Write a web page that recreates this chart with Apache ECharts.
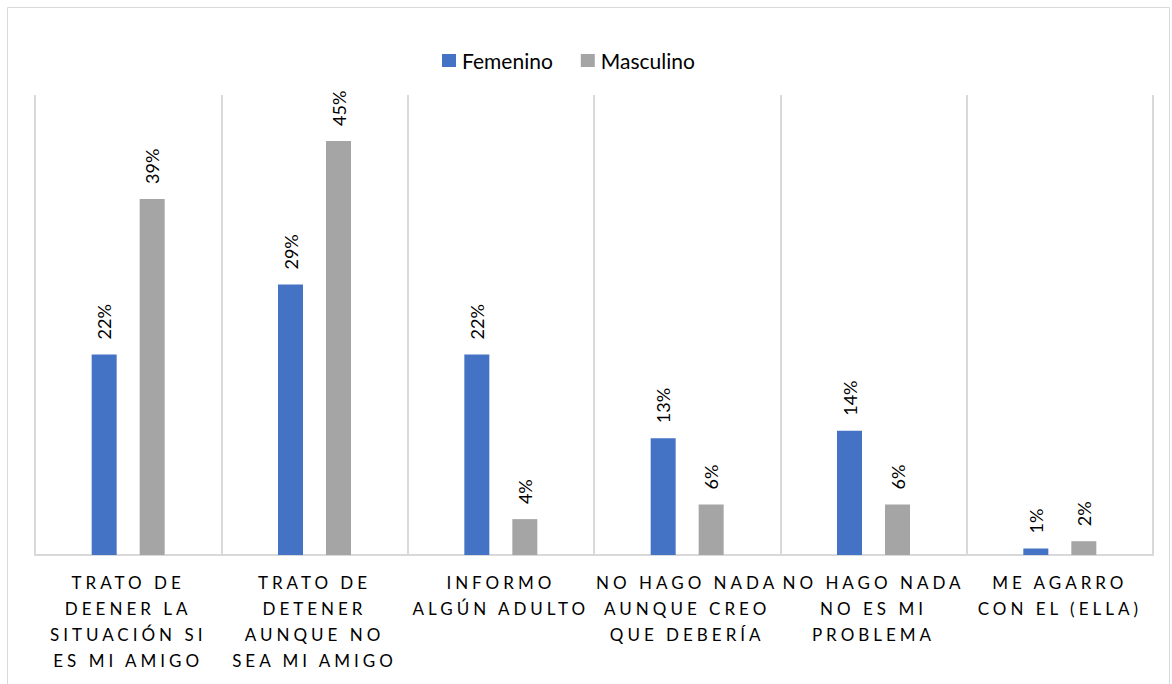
<!DOCTYPE html>
<html>
<head>
<meta charset="utf-8">
<script src="https://cdn.jsdelivr.net/npm/echarts@6/dist/echarts.min.js"></script>
<style>
html,body{margin:0;padding:0;background:#fff;}
#chart{width:1172px;height:684px;}
</style>
</head>
<body>
<div id="chart"></div>
<script>
const categories = [
  "TRATO DE\nDEENER LA\nSITUACIÓN SI\nES MI AMIGO",
  "TRATO DE\nDETENER\nAUNQUE NO\nSEA MI AMIGO",
  "INFORMO\nALGÚN ADULTO",
  "NO HAGO NADA\nAUNQUE CREO\nQUE DEBERÍA",
  "NO HAGO NADA\nNO ES MI\nPROBLEMA",
  "ME AGARRO\nCON EL (ELLA)"
];
const seriesNames = ["Femenino", "Masculino"];
const femenino = [21.8, 29.4, 21.8, 12.7, 13.5, 0.7];
const masculino = [38.7, 45.0, 3.9, 5.5, 5.5, 1.5];

const chart = echarts.init(document.getElementById('chart'), null, {renderer: 'svg'});
const labelStyle = {
  show: true,
  position: 'top',
  rotate: 90,
  align: 'left',
  verticalAlign: 'middle',
  distance: 15,
  fontFamily: 'Lato',
  fontSize: 18,
  color: '#000',
  formatter: p => Math.round(p.value) + '%'
};
chart.setOption({
  animation: false,
  graphic: [{
    type: 'rect',
    shape: {x: 7.5, y: 7.5, width: 1162, height: 720},
    style: {fill: 'none', stroke: '#d9d9d9', lineWidth: 1},
    silent: true
  }],
  legend: {
    data: seriesNames,
    top: 45,
    left: 437,
    itemWidth: 14,
    itemHeight: 13,
    itemGap: 28,
    icon: 'rect',
    textStyle: {fontFamily: 'Lato', fontSize: 21, color: '#000', padding: [0, 0, 0, 1]}
  },
  grid: {left: 35, right: 19, top: 95, bottom: 129, containLabel: false},
  xAxis: {
    type: 'category',
    data: categories,
    axisLine: {lineStyle: {color: '#d9d9d9', width: 2}},
    axisTick: {show: false},
    splitLine: {show: true, lineStyle: {color: '#d9d9d9', width: 2}},
    axisLabel: {
      interval: 0,
      margin: 14,
      fontFamily: 'Lato',
      fontSize: 17,
      lineHeight: 26,
      color: '#000'
    }
  },
  yAxis: {
    type: 'value',
    min: 0,
    max: 50,
    show: false,
    splitLine: {show: false}
  },
  series: [
    {name: seriesNames[0], type: 'bar', data: femenino, barWidth: 25, barGap: '92%',
     itemStyle: {color: '#4472C4'}, label: labelStyle},
    {name: seriesNames[1], type: 'bar', data: masculino, barWidth: 25, barGap: '92%',
     itemStyle: {color: '#A5A5A5'}, label: labelStyle}
  ]
});

function spaceLabels() {
  document.querySelectorAll('#chart text').forEach(t => {
    const s = t.textContent;
    if (s.length > 1 && /^[A-ZÁÉÍÓÚÑ() ]+$/.test(s)) {
      t.style.letterSpacing = '4px';
    }
  });
}
chart.on('finished', spaceLabels);
spaceLabels();
</script>
</body>
</html>
